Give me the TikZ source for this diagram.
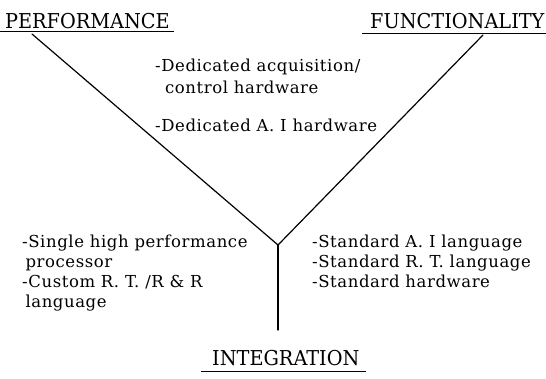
\documentclass[tikz,border=0pt]{standalone}
\usepackage{fontspec}
\setmainfont{DejaVu Serif}
\newfontfamily\headfont[FakeStretch=0.94]{DejaVu Serif}
\newfontfamily\bodyfont[FakeStretch=1.0,LetterSpace=3.5]{DejaVu Serif}
% a block of left-aligned lines whose baseline is that of its first line
\newcommand\itemlines[1]{\begin{tabular}[t]{@{}l@{}}#1\end{tabular}}
\begin{document}
\begin{tikzpicture}[x=1pt,y=-1pt,
  heading/.style={anchor=base west,inner sep=0pt,font=\headfont\fontsize{20.5}{24}\selectfont},
  item/.style={anchor=base west,inner sep=0pt,font=\bodyfont\fontsize{16.5}{20}\selectfont},
  rule/.style={line width=1pt},
  arm/.style={line width=1.2pt,line cap=round}]
\useasboundingbox (0,0) rectangle (546,378);
% headings with their underlines
\node[heading] (perf) at (5,28) {PERFORMANCE};
\node[heading] (func) at (370,28) {FUNCTIONALITY};
\node[heading] (integ) at (212,365) {INTEGRATION};
\draw[rule] (0,31) -- (174,31);
\draw[rule] (362,33) -- (546,33);
\draw[rule] (201,371) -- (366,371);
% the Y joining the three headings
\coordinate (pa) at (32,34);
\coordinate (fa) at (483,35);
\coordinate (j) at (278,245);
\coordinate (ia) at (278,330);
\draw[arm] (pa) -- (j) -- (fa);
\draw[arm] (j) -- (ia);
% lists
\node[item] (d1) at (155,71) {\itemlines{-Dedicated acquisition/\\[2pt]\hspace*{0.6em}control hardware}};
\node[item] (d2) at (155,131) {-Dedicated A. I hardware};
\node[item] (l1) at (22,247) {\itemlines{-Single high performance\\\hspace*{0.2em}processor\\-Custom R. T. /R \& R\\\hspace*{0.2em}language}};
\node[item] (r1) at (312,247) {\itemlines{-Standard A. I language\\-Standard R. T. language\\-Standard hardware}};
\end{tikzpicture}
\end{document}
